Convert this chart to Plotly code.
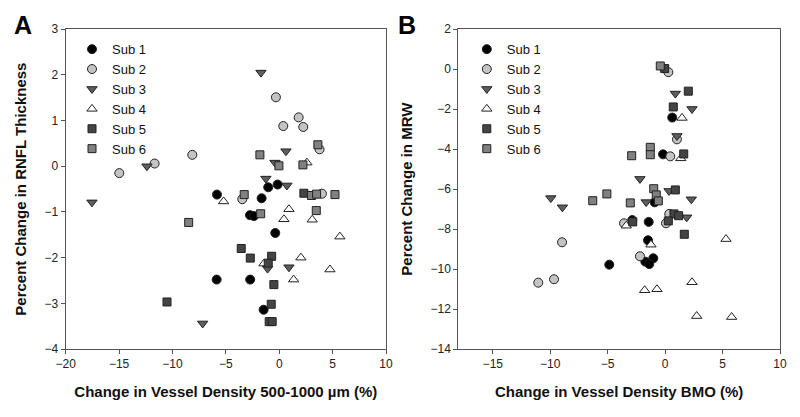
import plotly.graph_objects as go

# ---------------- data: Panel A (RNFL thickness) ----------------
subjects = ["Sub 1", "Sub 2", "Sub 3", "Sub 4", "Sub 5", "Sub 6"]

a_sub1_x = [-1.03, -0.15, -5.83, -1.65, -2.74, -2.37, -0.37, -5.86, -2.72, -1.46]
a_sub1_y = [-0.46, -0.40, -0.62, -0.70, -1.07, -1.09, -1.46, -2.48, -2.48, -3.14]
a_sub2_x = [-0.31, 1.82, 0.38, 2.25, 3.78, -8.14, -11.67, -14.98, -3.46, 4.00]
a_sub2_y = [1.51, 1.07, 0.88, 0.86, 0.37, 0.25, 0.06, -0.15, -0.72, -0.60]
a_sub3_x = [-1.71, 0.63, -0.40, -12.39, -1.25, 0.72, -17.54, -1.09, 0.91, -7.17]
a_sub3_y = [2.05, 0.33, 0.08, 0.00, -0.27, -0.42, -0.79, -2.24, -2.21, -3.44]
a_sub4_x = [2.59, -5.21, 0.91, 0.44, 3.09, 5.68, -1.43, 2.03, 4.75, 1.35]
a_sub4_y = [0.08, -0.77, -0.94, -1.16, -1.17, -1.54, -2.13, -2.00, -2.26, -2.48]
a_sub5_x = [-3.56, -2.71, -0.71, -1.03, -0.50, -0.75, -0.94, -0.66, -10.51, 2.31]
a_sub5_y = [-1.80, -2.01, -1.97, -2.12, -2.59, -3.02, -3.40, -3.40, -2.97, -0.59]
a_sub6_x = [3.62, -1.81, -0.03, 2.22, -3.28, 3.03, 3.50, 5.22, -1.74, 3.47, -8.48]
a_sub6_y = [0.47, 0.25, 0.01, 0.03, -0.62, -0.64, -0.61, -0.62, -1.04, -0.97, -1.23]

# ---------------- data: Panel B (MRW) ----------------
b_sub1_x = [0.62, -0.18, -0.91, -1.43, -2.86, -1.49, -1.03, -1.72, -1.38, -4.86]
b_sub1_y = [-2.42, -4.26, -6.66, -7.64, -7.55, -8.56, -9.46, -9.63, -9.75, -9.78]
b_sub2_x = [0.28, 1.03, 0.45, 0.36, 0.08, -3.58, -8.97, -2.19, -9.67, -11.04]
b_sub2_y = [-0.15, -3.51, -4.36, -7.24, -7.71, -7.71, -8.66, -9.36, -10.51, -10.68]
b_sub3_x = [0.89, 2.34, 1.03, -2.19, 0.34, -9.95, -8.94, -1.65, 2.28, 1.88]
b_sub3_y = [-1.22, -1.99, -3.34, -5.49, -6.09, -6.45, -6.91, -6.65, -6.51, -7.41]
b_sub4_x = [1.47, 1.36, -3.38, 5.30, -1.23, 2.34, -1.78, -0.71, 2.75, 5.79]
b_sub4_y = [-2.44, -4.46, -7.83, -8.50, -8.78, -10.66, -11.06, -11.01, -12.35, -12.40]
b_sub5_x = [2.02, 0.71, 1.62, 0.89, 0.77, 1.18, 0.28, -2.82, 1.67, -0.04]
b_sub5_y = [-1.10, -1.89, -4.24, -6.04, -7.24, -7.33, -7.59, -7.64, -8.26, 0.03]
b_sub6_x = [-0.42, -1.29, -1.29, -2.91, -0.99, -0.77, -0.59, -3.03, -5.07, -6.30]
b_sub6_y = [0.16, -3.91, -4.28, -4.33, -5.98, -6.29, -6.59, -6.69, -6.24, -6.58]

a_x_ticks = [-20, -15, -10, -5, 0, 5, 10]
a_y_ticks = [-4, -3, -2, -1, 0, 1, 2, 3]
b_x_ticks = [-15, -10, -5, 0, 5, 10]
b_y_ticks = [-14, -12, -10, -8, -6, -4, -2, 0, 2]

panel_a = [(a_sub1_x, a_sub1_y), (a_sub2_x, a_sub2_y), (a_sub3_x, a_sub3_y),
           (a_sub4_x, a_sub4_y), (a_sub5_x, a_sub5_y), (a_sub6_x, a_sub6_y)]
panel_b = [(b_sub1_x, b_sub1_y), (b_sub2_x, b_sub2_y), (b_sub3_x, b_sub3_y),
           (b_sub4_x, b_sub4_y), (b_sub5_x, b_sub5_y), (b_sub6_x, b_sub6_y)]

# ---------------- styles ----------------
symbols = ["circle", "circle", "triangle-down", "triangle-up", "square", "square"]
fills = ["#000000", "#c4c4c4", "#5e5e5e", "#ffffff", "#444444", "#818181"]
sizes = [9, 9, 9, 9, 8, 8]
FONT = "Liberation Sans, Arial, sans-serif"
AXC = "#555555"

fig = go.Figure()
for i, name in enumerate(subjects):
    for panel, xa, ya, leg in [(panel_a, "x", "y", "legend"), (panel_b, "x2", "y2", "legend2")]:
        xs, ys = panel[i]
        fig.add_trace(go.Scatter(
            x=xs, y=ys, mode="markers", name=name, xaxis=xa, yaxis=ya, legend=leg,
            marker=dict(symbol=symbols[i], size=sizes[i], color=fills[i],
                        line=dict(color="#222222", width=1)),
        ))

def axis(domain, rng, ticks, title, anchor, standoff):
    return dict(domain=domain, range=rng, tickvals=ticks, showgrid=False, zeroline=False,
                showline=True, linecolor=AXC, linewidth=1, mirror=True, anchor=anchor,
                automargin=False,
                ticks="outside", ticklen=4, tickcolor=AXC,
                tickfont=dict(family=FONT, size=12, color="#222222"),
                title=dict(text=title, font=dict(family=FONT, size=15, color="#111111"),
                           standoff=standoff))

ydom = [0.163, 0.930]
fig.update_layout(
    width=800, height=417, autosize=False,
    margin=dict(l=0, r=0, t=0, b=0, pad=0, autoexpand=False),
    paper_bgcolor="white", plot_bgcolor="white",
    font=dict(family=FONT, color="#111111"),
    xaxis=axis([0.0821, 0.4825], [-20, 10], a_x_ticks,
               "<b>Change in Vessel Density 500-1000 µm (%)</b>", "y", 16),
    yaxis=axis(ydom, [-4, 3], a_y_ticks, "<b>Percent Change in RNFL Thickness</b>", "x", 14),
    xaxis2=axis([0.5729, 0.975], [-18, 10], b_x_ticks,
                "<b>Change in Vessel Density BMO (%)</b>", "y2", 16),
    yaxis2=axis(ydom, [-14, 2], b_y_ticks, "<b>Percent Change in MRW</b>", "x2", 14),
    legend=dict(x=0.090, y=0.918, xanchor="left", yanchor="top", bgcolor="rgba(0,0,0,0)",
                font=dict(family=FONT, size=13, color="#111111"), tracegroupgap=0),
    legend2=dict(x=0.5835, y=0.918, xanchor="left", yanchor="top", bgcolor="rgba(0,0,0,0)",
                 font=dict(family=FONT, size=13, color="#111111"), tracegroupgap=0),
    annotations=[
        dict(text="<b>A</b>", x=23 / 800, y=1 - 25 / 417, xref="paper", yref="paper",
             xanchor="center", yanchor="middle",
             showarrow=False, font=dict(family=FONT, size=25, color="#000000")),
        dict(text="<b>B</b>", x=407 / 800, y=1 - 25 / 417, xref="paper", yref="paper",
             xanchor="center", yanchor="middle",
             showarrow=False, font=dict(family=FONT, size=25, color="#000000")),
    ],
)

fig.write_html("out.html", config={"displayModeBar": False},
               post_script="document.body.style.margin='0';")
